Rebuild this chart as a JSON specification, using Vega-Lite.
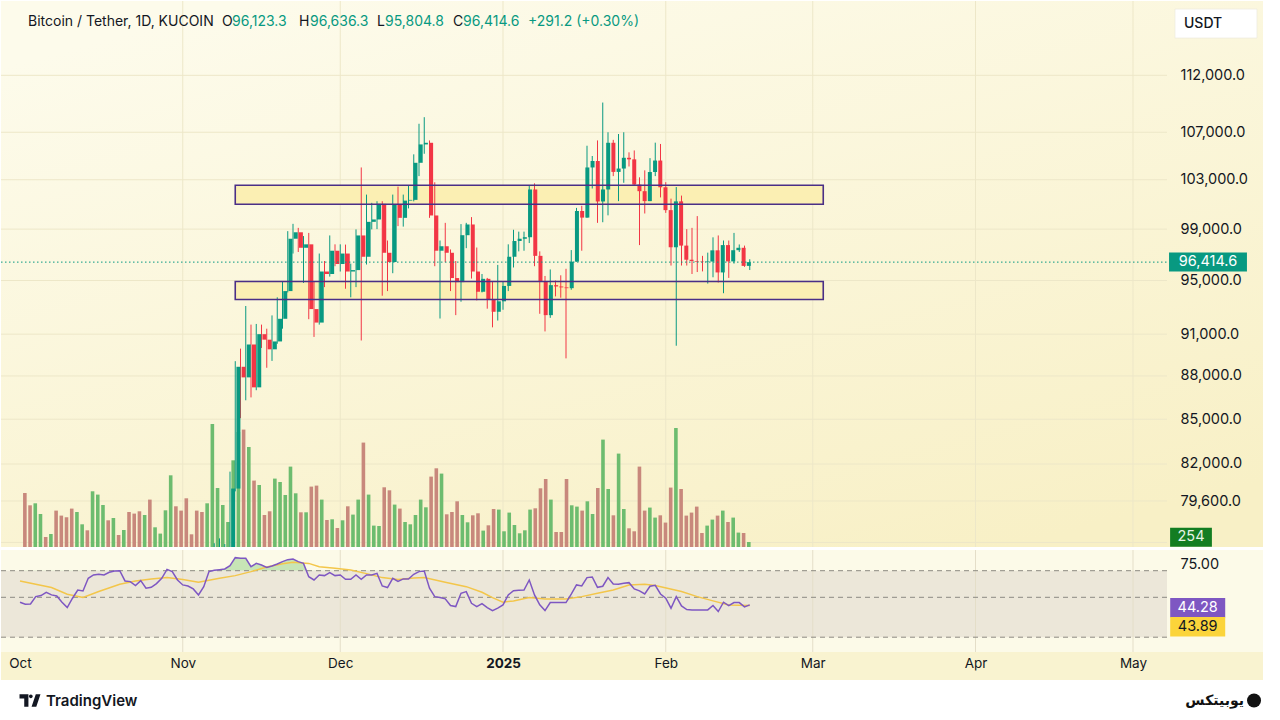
{
"$schema":"https://vega.github.io/schema/vega-lite/v6.json",
"background":"#ffffff",
"padding":{"left":0,"top":0,"right":18,"bottom":0},
"spacing":1,
"config":{"view":{"stroke":null},"font":"Inter"},
"datasets":{
"one":[{}],
"daily":[
{"d":"2024-10-01","v":2743,"r":46.3,"dir":"down"},
{"d":"2024-10-02","v":2118,"r":44.8,"dir":"down"},
{"d":"2024-10-03","v":2220,"r":45.0,"dir":"up"},
{"d":"2024-10-04","v":1676,"r":50.5,"dir":"up"},
{"d":"2024-10-05","v":508,"r":51.3,"dir":"down"},
{"d":"2024-10-06","v":660,"r":53.8,"dir":"up"},
{"d":"2024-10-07","v":1849,"r":51.8,"dir":"down"},
{"d":"2024-10-08","v":1595,"r":51.0,"dir":"down"},
{"d":"2024-10-09","v":1509,"r":46.3,"dir":"down"},
{"d":"2024-10-10","v":1951,"r":42.3,"dir":"down"},
{"d":"2024-10-11","v":1778,"r":49.3,"dir":"up"},
{"d":"2024-10-12","v":1153,"r":55.5,"dir":"up"},
{"d":"2024-10-13","v":848,"r":54.8,"dir":"down"},
{"d":"2024-10-14","v":2830,"r":64.3,"dir":"up"},
{"d":"2024-10-15","v":2662,"r":66.8,"dir":"up"},
{"d":"2024-10-16","v":2134,"r":67.3,"dir":"up"},
{"d":"2024-10-17","v":1356,"r":66.8,"dir":"down"},
{"d":"2024-10-18","v":1473,"r":68.8,"dir":"up"},
{"d":"2024-10-19","v":610,"r":69.8,"dir":"down"},
{"d":"2024-10-20","v":864,"r":70.0,"dir":"up"},
{"d":"2024-10-21","v":1778,"r":62.3,"dir":"down"},
{"d":"2024-10-22","v":1697,"r":61.8,"dir":"down"},
{"d":"2024-10-23","v":1814,"r":58.8,"dir":"down"},
{"d":"2024-10-24","v":1626,"r":62.5,"dir":"up"},
{"d":"2024-10-25","v":2408,"r":56.8,"dir":"down"},
{"d":"2024-10-26","v":1001,"r":57.5,"dir":"up"},
{"d":"2024-10-27","v":681,"r":60.3,"dir":"up"},
{"d":"2024-10-28","v":1864,"r":64.3,"dir":"up"},
{"d":"2024-10-29","v":3642,"r":71.0,"dir":"up"},
{"d":"2024-10-30","v":2068,"r":69.3,"dir":"down"},
{"d":"2024-10-31","v":1849,"r":63.0,"dir":"down"},
{"d":"2024-11-01","v":2474,"r":59.3,"dir":"down"},
{"d":"2024-11-02","v":645,"r":58.5,"dir":"down"},
{"d":"2024-11-03","v":1849,"r":56.3,"dir":"down"},
{"d":"2024-11-04","v":1778,"r":51.8,"dir":"down"},
{"d":"2024-11-05","v":2220,"r":58.0,"dir":"up"},
{"d":"2024-11-06","v":6248,"r":69.3,"dir":"up","o":69380,"h":76460,"l":69320,"c":75640},
{"d":"2024-11-07","v":2997,"r":70.3,"dir":"up","o":75640,"h":76950,"l":74460,"c":75900},
{"d":"2024-11-08","v":2134,"r":70.8,"dir":"up","o":75900,"h":77250,"l":75600,"c":76540},
{"d":"2024-11-09","v":1270,"r":71.3,"dir":"up","o":76540,"h":76900,"l":75700,"c":76680},
{"d":"2024-11-10","v":4404,"r":73.8,"dir":"up","o":76680,"h":81500,"l":76470,"c":80400},
{"d":"2024-11-11","v":5842,"r":79.8,"dir":"up","o":80400,"h":89050,"l":80220,"c":88650},
{"d":"2024-11-12","v":5964,"r":79.3,"dir":"down","o":88650,"h":89950,"l":85070,"c":87900},
{"d":"2024-11-13","v":5080,"r":79.3,"dir":"up","o":87900,"h":93080,"l":86300,"c":90250},
{"d":"2024-11-14","v":3373,"r":73.0,"dir":"down","o":90250,"h":91700,"l":86500,"c":87200},
{"d":"2024-11-15","v":3150,"r":75.5,"dir":"up","o":87200,"h":91750,"l":87000,"c":91000},
{"d":"2024-11-16","v":1626,"r":74.3,"dir":"down","o":91000,"h":91700,"l":90000,"c":90600},
{"d":"2024-11-17","v":1814,"r":72.5,"dir":"down","o":90600,"h":91400,"l":88580,"c":89900},
{"d":"2024-11-18","v":3475,"r":73.5,"dir":"up","o":89900,"h":92380,"l":89070,"c":90470},
{"d":"2024-11-19","v":3302,"r":75.0,"dir":"up","o":90470,"h":93730,"l":90300,"c":92130},
{"d":"2024-11-20","v":2642,"r":76.8,"dir":"up","o":92130,"h":94900,"l":91400,"c":94200},
{"d":"2024-11-21","v":4084,"r":78.3,"dir":"up","o":94200,"h":98840,"l":94100,"c":98240},
{"d":"2024-11-22","v":2728,"r":78.8,"dir":"up","o":98240,"h":99420,"l":97080,"c":98750},
{"d":"2024-11-23","v":1763,"r":76.8,"dir":"down","o":98750,"h":99100,"l":97200,"c":97530},
{"d":"2024-11-24","v":1763,"r":75.5,"dir":"up","o":97530,"h":98450,"l":94820,"c":97800},
{"d":"2024-11-25","v":3068,"r":65.5,"dir":"down","o":97800,"h":98700,"l":92100,"c":92850},
{"d":"2024-11-26","v":3119,"r":63.0,"dir":"down","o":92850,"h":94900,"l":90800,"c":91850},
{"d":"2024-11-27","v":2408,"r":66.8,"dir":"up","o":91850,"h":97080,"l":91700,"c":95690},
{"d":"2024-11-28","v":1372,"r":66.3,"dir":"down","o":95690,"h":96500,"l":94500,"c":95500},
{"d":"2024-11-29","v":1407,"r":68.5,"dir":"up","o":95500,"h":98500,"l":95300,"c":97300},
{"d":"2024-11-30","v":965,"r":66.3,"dir":"down","o":97300,"h":97800,"l":96100,"c":96270},
{"d":"2024-12-01","v":1356,"r":66.8,"dir":"up","o":96270,"h":97800,"l":95690,"c":97080},
{"d":"2024-12-02","v":2068,"r":63.5,"dir":"down","o":97080,"h":97780,"l":94380,"c":95690},
{"d":"2024-12-03","v":1646,"r":63.5,"dir":"up","o":95690,"h":96300,"l":93730,"c":95800},
{"d":"2024-12-04","v":2408,"r":66.8,"dir":"up","o":95800,"h":98980,"l":94500,"c":98500},
{"d":"2024-12-05","v":5304,"r":63.5,"dir":"down","o":98500,"h":104020,"l":90540,"c":96830},
{"d":"2024-12-06","v":2662,"r":66.8,"dir":"up","o":96830,"h":101780,"l":96230,"c":99580},
{"d":"2024-12-07","v":1087,"r":66.8,"dir":"up","o":99580,"h":101110,"l":98980,"c":99770},
{"d":"2024-12-08","v":1067,"r":68.0,"dir":"up","o":99770,"h":101240,"l":99000,"c":101030},
{"d":"2024-12-09","v":3033,"r":58.5,"dir":"down","o":101030,"h":101240,"l":93850,"c":97140},
{"d":"2024-12-10","v":2880,"r":57.3,"dir":"down","o":97140,"h":98100,"l":94200,"c":96420},
{"d":"2024-12-11","v":2154,"r":64.3,"dir":"up","o":96420,"h":101780,"l":95560,"c":100980},
{"d":"2024-12-12","v":1951,"r":62.0,"dir":"down","o":100980,"h":102430,"l":99240,"c":99900},
{"d":"2024-12-13","v":1270,"r":63.8,"dir":"up","o":99900,"h":101780,"l":99200,"c":101290},
{"d":"2024-12-14","v":1153,"r":63.8,"dir":"up","o":101290,"h":102530,"l":100660,"c":101350},
{"d":"2024-12-15","v":1626,"r":67.3,"dir":"up","o":101350,"h":105120,"l":101230,"c":104410},
{"d":"2024-12-16","v":2408,"r":69.3,"dir":"up","o":104410,"h":107730,"l":103300,"c":105960},
{"d":"2024-12-17","v":2017,"r":69.8,"dir":"up","o":105960,"h":108300,"l":105170,"c":106100},
{"d":"2024-12-18","v":3576,"r":56.8,"dir":"down","o":106100,"h":106300,"l":99900,"c":100090},
{"d":"2024-12-19","v":3998,"r":50.5,"dir":"down","o":100090,"h":102790,"l":96100,"c":97300},
{"d":"2024-12-20","v":3729,"r":49.8,"dir":"up","o":97300,"h":98100,"l":92150,"c":97650},
{"d":"2024-12-21","v":1661,"r":48.8,"dir":"down","o":97650,"h":99500,"l":96400,"c":97140},
{"d":"2024-12-22","v":1778,"r":43.8,"dir":"down","o":97140,"h":97400,"l":94200,"c":95190},
{"d":"2024-12-23","v":2322,"r":43.0,"dir":"down","o":95190,"h":96500,"l":92400,"c":94880},
{"d":"2024-12-24","v":1626,"r":53.0,"dir":"up","o":94880,"h":99400,"l":93400,"c":98520},
{"d":"2024-12-25","v":1255,"r":54.3,"dir":"up","o":98520,"h":99500,"l":97500,"c":99370},
{"d":"2024-12-26","v":1610,"r":45.5,"dir":"down","o":99370,"h":99960,"l":95150,"c":95690},
{"d":"2024-12-27","v":1712,"r":43.0,"dir":"down","o":95690,"h":97550,"l":93500,"c":94150},
{"d":"2024-12-28","v":833,"r":45.3,"dir":"up","o":94150,"h":95500,"l":94100,"c":95130},
{"d":"2024-12-29","v":1102,"r":42.3,"dir":"down","o":95130,"h":95200,"l":92880,"c":93570},
{"d":"2024-12-30","v":1930,"r":40.0,"dir":"down","o":93570,"h":94900,"l":91500,"c":92650},
{"d":"2024-12-31","v":1900,"r":41.8,"dir":"up","o":92650,"h":96200,"l":92000,"c":93430},
{"d":"2025-01-01","v":798,"r":44.3,"dir":"up","o":93430,"h":94950,"l":92800,"c":94590},
{"d":"2025-01-02","v":1748,"r":51.8,"dir":"up","o":94590,"h":97800,"l":94200,"c":96830},
{"d":"2025-01-03","v":1118,"r":55.0,"dir":"up","o":96830,"h":98950,"l":96000,"c":98060},
{"d":"2025-01-04","v":696,"r":55.3,"dir":"up","o":98060,"h":98800,"l":97250,"c":98240},
{"d":"2025-01-05","v":848,"r":55.5,"dir":"up","o":98240,"h":98800,"l":97300,"c":98360},
{"d":"2025-01-06","v":1900,"r":63.0,"dir":"up","o":98360,"h":102500,"l":97900,"c":102200},
{"d":"2025-01-07","v":1966,"r":51.8,"dir":"down","o":102200,"h":102700,"l":96100,"c":96900},
{"d":"2025-01-08","v":2982,"r":44.3,"dir":"down","o":96900,"h":97250,"l":92500,"c":94940},
{"d":"2025-01-09","v":3454,"r":40.0,"dir":"down","o":94940,"h":95350,"l":91200,"c":92400},
{"d":"2025-01-10","v":2408,"r":46.0,"dir":"up","o":92400,"h":95850,"l":92200,"c":94650},
{"d":"2025-01-11","v":762,"r":46.0,"dir":"down","o":94650,"h":95000,"l":93800,"c":94550},
{"d":"2025-01-12","v":762,"r":46.0,"dir":"down","o":94550,"h":95400,"l":93700,"c":94480},
{"d":"2025-01-13","v":3454,"r":46.0,"dir":"down","o":94480,"h":95900,"l":89250,"c":94420},
{"d":"2025-01-14","v":2118,"r":52.3,"dir":"up","o":94420,"h":97350,"l":94300,"c":96450},
{"d":"2025-01-15","v":2052,"r":59.3,"dir":"up","o":96450,"h":100700,"l":96450,"c":100450},
{"d":"2025-01-16","v":1849,"r":58.5,"dir":"down","o":100450,"h":100870,"l":97300,"c":99920},
{"d":"2025-01-17","v":2322,"r":64.8,"dir":"up","o":99920,"h":105850,"l":99900,"c":104020},
{"d":"2025-01-18","v":1676,"r":65.3,"dir":"up","o":104020,"h":104980,"l":102280,"c":104560},
{"d":"2025-01-19","v":2997,"r":57.5,"dir":"down","o":104560,"h":106300,"l":99500,"c":101220},
{"d":"2025-01-20","v":5456,"r":58.3,"dir":"up","o":101220,"h":109580,"l":99550,"c":102200},
{"d":"2025-01-21","v":2946,"r":64.8,"dir":"up","o":102200,"h":107000,"l":100100,"c":106100},
{"d":"2025-01-22","v":1610,"r":60.0,"dir":"down","o":106100,"h":106350,"l":103300,"c":103650},
{"d":"2025-01-23","v":4745,"r":59.8,"dir":"up","o":103650,"h":106850,"l":101250,"c":103930},
{"d":"2025-01-24","v":1930,"r":60.5,"dir":"up","o":103930,"h":107000,"l":102750,"c":104830},
{"d":"2025-01-25","v":950,"r":61.0,"dir":"down","o":104830,"h":105290,"l":104100,"c":104700},
{"d":"2025-01-26","v":798,"r":56.3,"dir":"down","o":104700,"h":105450,"l":102500,"c":102600},
{"d":"2025-01-27","v":4084,"r":54.8,"dir":"down","o":102600,"h":103200,"l":97740,"c":102060},
{"d":"2025-01-28","v":1849,"r":52.5,"dir":"down","o":102060,"h":103780,"l":100250,"c":101250},
{"d":"2025-01-29","v":2002,"r":58.3,"dir":"up","o":101250,"h":104800,"l":101250,"c":103640},
{"d":"2025-01-30","v":1494,"r":59.0,"dir":"up","o":103640,"h":106110,"l":103300,"c":104600},
{"d":"2025-01-31","v":1610,"r":52.5,"dir":"down","o":104600,"h":106000,"l":101550,"c":102380},
{"d":"2025-02-01","v":1240,"r":49.3,"dir":"down","o":102380,"h":102800,"l":100300,"c":100520},
{"d":"2025-02-02","v":3018,"r":41.8,"dir":"down","o":100520,"h":101450,"l":96150,"c":97570},
{"d":"2025-02-03","v":6045,"r":50.5,"dir":"up","o":97570,"h":102400,"l":90160,"c":101230},
{"d":"2025-02-04","v":2946,"r":43.5,"dir":"down","o":101230,"h":101700,"l":96150,"c":97700},
{"d":"2025-02-05","v":1595,"r":40.8,"dir":"down","o":97700,"h":99000,"l":96150,"c":96600},
{"d":"2025-02-06","v":1748,"r":40.5,"dir":"down","o":96600,"h":99100,"l":95500,"c":96500},
{"d":"2025-02-07","v":2052,"r":40.5,"dir":"down","o":96500,"h":100040,"l":95650,"c":96450},
{"d":"2025-02-08","v":711,"r":40.5,"dir":"down","o":96450,"h":96900,"l":95700,"c":96420},
{"d":"2025-02-09","v":1087,"r":40.5,"dir":"up","o":96420,"h":97150,"l":94770,"c":96460},
{"d":"2025-02-10","v":1392,"r":43.8,"dir":"up","o":96460,"h":98350,"l":95250,"c":97330},
{"d":"2025-02-11","v":1595,"r":39.3,"dir":"down","o":97330,"h":98500,"l":94850,"c":95620},
{"d":"2025-02-12","v":1849,"r":46.3,"dir":"up","o":95620,"h":98100,"l":94040,"c":97740},
{"d":"2025-02-13","v":1270,"r":43.8,"dir":"down","o":97740,"h":98100,"l":95200,"c":96470},
{"d":"2025-02-14","v":1494,"r":46.0,"dir":"up","o":96470,"h":98700,"l":96300,"c":97340},
{"d":"2025-02-15","v":732,"r":46.0,"dir":"up","o":97340,"h":97790,"l":97200,"c":97530},
{"d":"2025-02-16","v":711,"r":42.8,"dir":"down","o":97530,"h":97700,"l":96050,"c":96123.4},
{"d":"2025-02-17","v":254,"r":44.28,"dir":"up","o":96123.3,"h":96636.3,"l":95804.8,"c":96414.6}
],
"ma":[
{"d":"2024-10-01","m":62.3},{"d":"2024-10-04","m":59.8},{"d":"2024-10-07","m":57.3},{"d":"2024-10-10","m":52.3},
{"d":"2024-10-13","m":49.8},{"d":"2024-10-16","m":54.3},{"d":"2024-10-20","m":59.8},{"d":"2024-10-23","m":62.3},
{"d":"2024-10-26","m":63.8},{"d":"2024-10-29","m":64.8},{"d":"2024-11-01","m":63.3},{"d":"2024-11-04","m":61.3},
{"d":"2024-11-08","m":64.3},{"d":"2024-11-11","m":66.3},{"d":"2024-11-14","m":69.3},{"d":"2024-11-17","m":72.8},
{"d":"2024-11-20","m":75.3},{"d":"2024-11-22","m":76.3},{"d":"2024-11-25","m":75.5},{"d":"2024-11-27","m":73.0},
{"d":"2024-11-30","m":71.8},{"d":"2024-12-03","m":70.5},{"d":"2024-12-06","m":67.8},{"d":"2024-12-09","m":64.8},
{"d":"2024-12-12","m":63.3},{"d":"2024-12-15","m":64.5},{"d":"2024-12-17","m":64.8},{"d":"2024-12-21","m":61.3},
{"d":"2024-12-25","m":58.0},{"d":"2024-12-28","m":53.8},{"d":"2024-12-30","m":49.8},{"d":"2025-01-01","m":46.3},
{"d":"2025-01-03","m":47.3},{"d":"2025-01-06","m":49.8},{"d":"2025-01-09","m":48.8},{"d":"2025-01-13","m":48.8},
{"d":"2025-01-16","m":50.5},{"d":"2025-01-19","m":53.0},{"d":"2025-01-22","m":55.5},{"d":"2025-01-25","m":59.3},
{"d":"2025-01-28","m":59.8},{"d":"2025-01-30","m":58.8},{"d":"2025-02-04","m":54.3},{"d":"2025-02-07","m":50.5},
{"d":"2025-02-10","m":47.3},{"d":"2025-02-13","m":44.3},{"d":"2025-02-17","m":43.89}
],
"zones":[
{"s":"2024-11-11","e":"2025-03-03","lo":101000,"hi":102550},
{"s":"2024-11-11","e":"2025-03-03","lo":93570,"hi":94930}
],
"ticks":[{"p":77000},{"p":79600},{"p":82000},{"p":85000},{"p":88000},{"p":91000},{"p":95000},{"p":99000},{"p":103000},{"p":107000},{"p":112000}],
"months":[{"m":"2024-11-01"},{"m":"2024-12-01"},{"m":"2025-01-01"},{"m":"2025-02-01"},{"m":"2025-03-01"},{"m":"2025-04-01"},{"m":"2025-05-01"}],
"bands":[{"b":70},{"b":50},{"b":20}]
},
"vconcat":[
{
"width":1262,"height":546,
"view":{"stroke":null,"fill":"#fbf7dc"},
"resolve":{"scale":{"x":"independent","y":"independent"}},
"layer":[
{"data":{"name":"one"},"mark":{"type":"rect","fill":{"gradient":"linear","x1":0.2,"y1":0,"x2":0.8,"y2":1,"stops":[{"offset":0,"color":"#fdfbeb"},{"offset":1,"color":"#f8f0c6"}]}},
 "encoding":{
  "x":{"datum":{"year":2024,"month":"sep","date":27,"hours":9,"minutes":8,"utc":true},"type":"temporal","axis":null,"scale":{"type":"utc","domain":[{"year":2024,"month":"sep","date":27,"hours":9,"minutes":8,"utc":true},{"year":2025,"month":"may","date":25,"hours":18,"minutes":17,"utc":true}]}},
  "x2":{"datum":{"year":2025,"month":"may","date":25,"hours":18,"minutes":17,"utc":true}},
  "y":{"datum":118880,"type":"quantitative","axis":null,"scale":{"type":"log","domain":[76718,118880],"nice":false}},
  "y2":{"datum":76718}}},
{"data":{"name":"ticks"},"mark":{"type":"rule","stroke":"#ede7c8","strokeWidth":1},
 "encoding":{
  "x":{"datum":{"year":2024,"month":"sep","date":27,"hours":9,"minutes":8,"utc":true},"type":"temporal","axis":null,"scale":{"type":"utc","domain":[{"year":2024,"month":"sep","date":27,"hours":9,"minutes":8,"utc":true},{"year":2025,"month":"may","date":25,"hours":18,"minutes":17,"utc":true}]}},
  "x2":{"datum":{"year":2025,"month":"may","date":7,"hours":11,"minutes":26,"utc":true}},
  "y":{"field":"p","type":"quantitative","scale":{"type":"log","domain":[76718,118880],"nice":false},
   "axis":{"orient":"right","offset":-92,"zindex":1,"values":[79600,82000,85000,88000,91000,95000,99000,103000,107000,112000],"format":",.1f","ticks":false,"tickSize":0,"domain":false,"grid":false,"labelPadding":9,"labelFont":"Inter","labelFontSize":14.5,"labelColor":"#131722","labelOverlap":false,"labelAlign":"left","labelBaseline":"middle","labelBound":false,"labelFlush":false,"title":null}}}},
{"data":{"name":"months"},"mark":{"type":"rule","stroke":"#ede7c8","strokeWidth":1},
 "encoding":{"x":{"field":"m","type":"temporal","axis":null,"scale":{"type":"utc","domain":[{"year":2024,"month":"sep","date":27,"hours":9,"minutes":8,"utc":true},{"year":2025,"month":"may","date":25,"hours":18,"minutes":17,"utc":true}]}}}},
{"data":{"name":"daily"},"mark":{"type":"bar","size":3.6},
 "encoding":{
  "x":{"field":"d","type":"temporal","axis":null,"scale":{"type":"utc","domain":[{"year":2024,"month":"sep","date":27,"hours":9,"minutes":8,"utc":true},{"year":2025,"month":"may","date":25,"hours":18,"minutes":17,"utc":true}]}},
  "y":{"field":"v","type":"quantitative","axis":null,"scale":{"domain":[0,27737],"nice":false}},
  "color":{"condition":{"test":"datum.dir==='up'","value":"#6dbc6f"},"value":"#c8887c"}}},
{"data":{"name":"zones"},"mark":{"type":"rect","fill":"#fbefb3"},
 "encoding":{
  "x":{"field":"s","type":"temporal","axis":null,"scale":{"type":"utc","domain":[{"year":2024,"month":"sep","date":27,"hours":9,"minutes":8,"utc":true},{"year":2025,"month":"may","date":25,"hours":18,"minutes":17,"utc":true}]}},
  "x2":{"field":"e"},
  "y":{"field":"lo","type":"quantitative","axis":null,"scale":{"type":"log","domain":[76718,118880],"nice":false}},
  "y2":{"field":"hi"}}},
{"data":{"name":"daily"},"mark":{"type":"rule","strokeWidth":1,"clip":true},
 "encoding":{
  "x":{"field":"d","type":"temporal","axis":null,"scale":{"type":"utc","domain":[{"year":2024,"month":"sep","date":27,"hours":9,"minutes":8,"utc":true},{"year":2025,"month":"may","date":25,"hours":18,"minutes":17,"utc":true}]}},
  "y":{"field":"l","type":"quantitative","axis":null,"scale":{"type":"log","domain":[76718,118880],"nice":false}},
  "y2":{"field":"h"},
  "color":{"condition":{"test":"datum.dir==='up'","value":"#089981"},"value":"#f23645"}}},
{"data":{"name":"daily"},"mark":{"type":"bar","size":4,"clip":true},
 "encoding":{
  "x":{"field":"d","type":"temporal","axis":null,"scale":{"type":"utc","domain":[{"year":2024,"month":"sep","date":27,"hours":9,"minutes":8,"utc":true},{"year":2025,"month":"may","date":25,"hours":18,"minutes":17,"utc":true}]}},
  "y":{"field":"o","type":"quantitative","axis":null,"scale":{"type":"log","domain":[76718,118880],"nice":false}},
  "y2":{"field":"c"},
  "color":{"condition":{"test":"datum.dir==='up'","value":"#089981"},"value":"#f23645"}}},
{"data":{"name":"zones"},"mark":{"type":"rect","filled":false,"stroke":"#4a2f86","strokeWidth":1.6},
 "encoding":{
  "x":{"field":"s","type":"temporal","axis":null,"scale":{"type":"utc","domain":[{"year":2024,"month":"sep","date":27,"hours":9,"minutes":8,"utc":true},{"year":2025,"month":"may","date":25,"hours":18,"minutes":17,"utc":true}]}},
  "x2":{"field":"e"},
  "y":{"field":"lo","type":"quantitative","axis":null,"scale":{"type":"log","domain":[76718,118880],"nice":false}},
  "y2":{"field":"hi"}}},
{"data":{"name":"one"},"mark":{"type":"rule","stroke":"#089981","strokeDash":[1.5,2.5],"strokeWidth":1},
 "encoding":{
  "x":{"datum":{"year":2024,"month":"sep","date":27,"hours":9,"minutes":8,"utc":true},"type":"temporal","axis":null,"scale":{"type":"utc","domain":[{"year":2024,"month":"sep","date":27,"hours":9,"minutes":8,"utc":true},{"year":2025,"month":"may","date":25,"hours":18,"minutes":17,"utc":true}]}},
  "x2":{"datum":{"year":2025,"month":"may","date":7,"hours":11,"minutes":26,"utc":true}},
  "y":{"datum":96414.6,"type":"quantitative","axis":null,"scale":{"type":"log","domain":[76718,118880],"nice":false}}}},
{"data":{"name":"one"},"mark":{"type":"text","align":"left","baseline":"middle","fontSize":14,"color":"#131722","text":"Bitcoin / Tether, 1D, KUCOIN"},
 "encoding":{
  "x":{"datum":{"year":2024,"month":"oct","date":2,"hours":12,"minutes":34,"utc":true},"type":"temporal","axis":null,"scale":{"type":"utc","domain":[{"year":2024,"month":"sep","date":27,"hours":9,"minutes":8,"utc":true},{"year":2025,"month":"may","date":25,"hours":18,"minutes":17,"utc":true}]}},
  "y":{"datum":116890,"type":"quantitative","axis":null,"scale":{"type":"log","domain":[76718,118880],"nice":false}}}},
{"data":{"name":"one"},"mark":{"type":"text","align":"left","baseline":"middle","fontSize":14,"color":"#131722","text":"O"},
 "encoding":{
  "x":{"datum":{"year":2024,"month":"nov","date":8,"hours":11,"minutes":26,"utc":true},"type":"temporal","axis":null,"scale":{"type":"utc","domain":[{"year":2024,"month":"sep","date":27,"hours":9,"minutes":8,"utc":true},{"year":2025,"month":"may","date":25,"hours":18,"minutes":17,"utc":true}]}},
  "y":{"datum":116890,"type":"quantitative","axis":null,"scale":{"type":"log","domain":[76718,118880],"nice":false}}}},
{"data":{"name":"one"},"mark":{"type":"text","align":"left","baseline":"middle","fontSize":14,"color":"#089981","text":"96,123.3"},
 "encoding":{
  "x":{"datum":{"year":2024,"month":"nov","date":10,"hours":9,"minutes":9,"utc":true},"type":"temporal","axis":null,"scale":{"type":"utc","domain":[{"year":2024,"month":"sep","date":27,"hours":9,"minutes":8,"utc":true},{"year":2025,"month":"may","date":25,"hours":18,"minutes":17,"utc":true}]}},
  "y":{"datum":116890,"type":"quantitative","axis":null,"scale":{"type":"log","domain":[76718,118880],"nice":false}}}},
{"data":{"name":"one"},"mark":{"type":"text","align":"left","baseline":"middle","fontSize":14,"color":"#131722","text":"H"},
 "encoding":{
  "x":{"datum":{"year":2024,"month":"nov","date":23,"hours":3,"minutes":26,"utc":true},"type":"temporal","axis":null,"scale":{"type":"utc","domain":[{"year":2024,"month":"sep","date":27,"hours":9,"minutes":8,"utc":true},{"year":2025,"month":"may","date":25,"hours":18,"minutes":17,"utc":true}]}},
  "y":{"datum":116890,"type":"quantitative","axis":null,"scale":{"type":"log","domain":[76718,118880],"nice":false}}}},
{"data":{"name":"one"},"mark":{"type":"text","align":"left","baseline":"middle","fontSize":14,"color":"#089981","text":"96,636.3"},
 "encoding":{
  "x":{"datum":{"year":2024,"month":"nov","date":25,"hours":5,"minutes":43,"utc":true},"type":"temporal","axis":null,"scale":{"type":"utc","domain":[{"year":2024,"month":"sep","date":27,"hours":9,"minutes":8,"utc":true},{"year":2025,"month":"may","date":25,"hours":18,"minutes":17,"utc":true}]}},
  "y":{"datum":116890,"type":"quantitative","axis":null,"scale":{"type":"log","domain":[76718,118880],"nice":false}}}},
{"data":{"name":"one"},"mark":{"type":"text","align":"left","baseline":"middle","fontSize":14,"color":"#131722","text":"L"},
 "encoding":{
  "x":{"datum":{"year":2024,"month":"dec","date":8,"hours":0,"minutes":0,"utc":true},"type":"temporal","axis":null,"scale":{"type":"utc","domain":[{"year":2024,"month":"sep","date":27,"hours":9,"minutes":8,"utc":true},{"year":2025,"month":"may","date":25,"hours":18,"minutes":17,"utc":true}]}},
  "y":{"datum":116890,"type":"quantitative","axis":null,"scale":{"type":"log","domain":[76718,118880],"nice":false}}}},
{"data":{"name":"one"},"mark":{"type":"text","align":"left","baseline":"middle","fontSize":14,"color":"#089981","text":"95,804.8"},
 "encoding":{
  "x":{"datum":{"year":2024,"month":"dec","date":9,"hours":12,"minutes":34,"utc":true},"type":"temporal","axis":null,"scale":{"type":"utc","domain":[{"year":2024,"month":"sep","date":27,"hours":9,"minutes":8,"utc":true},{"year":2025,"month":"may","date":25,"hours":18,"minutes":17,"utc":true}]}},
  "y":{"datum":116890,"type":"quantitative","axis":null,"scale":{"type":"log","domain":[76718,118880],"nice":false}}}},
{"data":{"name":"one"},"mark":{"type":"text","align":"left","baseline":"middle","fontSize":14,"color":"#131722","text":"C"},
 "encoding":{
  "x":{"datum":{"year":2024,"month":"dec","date":22,"hours":11,"minutes":26,"utc":true},"type":"temporal","axis":null,"scale":{"type":"utc","domain":[{"year":2024,"month":"sep","date":27,"hours":9,"minutes":8,"utc":true},{"year":2025,"month":"may","date":25,"hours":18,"minutes":17,"utc":true}]}},
  "y":{"datum":116890,"type":"quantitative","axis":null,"scale":{"type":"log","domain":[76718,118880],"nice":false}}}},
{"data":{"name":"one"},"mark":{"type":"text","align":"left","baseline":"middle","fontSize":14,"color":"#089981","text":"96,414.6"},
 "encoding":{
  "x":{"datum":{"year":2024,"month":"dec","date":24,"hours":9,"minutes":9,"utc":true},"type":"temporal","axis":null,"scale":{"type":"utc","domain":[{"year":2024,"month":"sep","date":27,"hours":9,"minutes":8,"utc":true},{"year":2025,"month":"may","date":25,"hours":18,"minutes":17,"utc":true}]}},
  "y":{"datum":116890,"type":"quantitative","axis":null,"scale":{"type":"log","domain":[76718,118880],"nice":false}}}},
{"data":{"name":"one"},"mark":{"type":"text","align":"left","baseline":"middle","fontSize":14,"color":"#089981","text":"+291.2 (+0.30%)"},
 "encoding":{
  "x":{"datum":{"year":2025,"month":"jan","date":5,"hours":18,"minutes":17,"utc":true},"type":"temporal","axis":null,"scale":{"type":"utc","domain":[{"year":2024,"month":"sep","date":27,"hours":9,"minutes":8,"utc":true},{"year":2025,"month":"may","date":25,"hours":18,"minutes":17,"utc":true}]}},
  "y":{"datum":116890,"type":"quantitative","axis":null,"scale":{"type":"log","domain":[76718,118880],"nice":false}}}},
{"data":{"name":"one"},"mark":{"type":"point","shape":"M-1.414,-0.5L1.414,-0.5L1.414,0.5L-1.414,0.5Z","filled":true,"size":3364,"color":"#ffffff","opacity":1,"stroke":"#ede9dc","strokeWidth":0.7},
 "encoding":{
  "x":{"datum":{"year":2025,"month":"may","date":16,"hours":19,"minutes":26,"utc":true},"type":"temporal","axis":null,"scale":{"type":"utc","domain":[{"year":2024,"month":"sep","date":27,"hours":9,"minutes":8,"utc":true},{"year":2025,"month":"may","date":25,"hours":18,"minutes":17,"utc":true}]}},
  "y":{"datum":116750,"type":"quantitative","axis":null,"scale":{"type":"log","domain":[76718,118880],"nice":false}}}},
{"data":{"name":"one"},"mark":{"type":"text","align":"left","baseline":"middle","fontSize":14,"fontWeight":500,"color":"#131722","text":"USDT"},
 "encoding":{
  "x":{"datum":{"year":2025,"month":"may","date":10,"hours":17,"minutes":9,"utc":true},"type":"temporal","axis":null,"scale":{"type":"utc","domain":[{"year":2024,"month":"sep","date":27,"hours":9,"minutes":8,"utc":true},{"year":2025,"month":"may","date":25,"hours":18,"minutes":17,"utc":true}]}},
  "y":{"datum":116750,"type":"quantitative","axis":null,"scale":{"type":"log","domain":[76718,118880],"nice":false}}}},
{"data":{"name":"one"},"mark":{"type":"point","shape":"M-2.05,-0.5L2.05,-0.5L2.05,0.5L-2.05,0.5Z","filled":true,"size":1444,"color":"#089981","opacity":1},
 "encoding":{
  "x":{"datum":{"year":2025,"month":"may","date":15,"hours":6,"minutes":51,"utc":true},"type":"temporal","axis":null,"scale":{"type":"utc","domain":[{"year":2024,"month":"sep","date":27,"hours":9,"minutes":8,"utc":true},{"year":2025,"month":"may","date":25,"hours":18,"minutes":17,"utc":true}]}},
  "y":{"datum":96414.6,"type":"quantitative","axis":null,"scale":{"type":"log","domain":[76718,118880],"nice":false}}}},
{"data":{"name":"one"},"mark":{"type":"text","align":"center","baseline":"middle","fontSize":14.5,"color":"#ffffff","text":"96,414.6"},
 "encoding":{
  "x":{"datum":{"year":2025,"month":"may","date":15,"hours":6,"minutes":51,"utc":true},"type":"temporal","axis":null,"scale":{"type":"utc","domain":[{"year":2024,"month":"sep","date":27,"hours":9,"minutes":8,"utc":true},{"year":2025,"month":"may","date":25,"hours":18,"minutes":17,"utc":true}]}},
  "y":{"datum":96414.6,"type":"quantitative","axis":null,"scale":{"type":"log","domain":[76718,118880],"nice":false}}}},
{"data":{"name":"one"},"mark":{"type":"point","shape":"M-1.1,-0.5L1.1,-0.5L1.1,0.5L-1.1,0.5Z","filled":true,"size":1444,"color":"#137d22","opacity":1},
 "encoding":{
  "x":{"datum":{"year":2025,"month":"may","date":12,"hours":1,"minutes":9,"utc":true},"type":"temporal","axis":null,"scale":{"type":"utc","domain":[{"year":2024,"month":"sep","date":27,"hours":9,"minutes":8,"utc":true},{"year":2025,"month":"may","date":25,"hours":18,"minutes":17,"utc":true}]}},
  "y":{"datum":77319,"type":"quantitative","axis":null,"scale":{"type":"log","domain":[76718,118880],"nice":false}}}},
{"data":{"name":"one"},"mark":{"type":"text","align":"center","baseline":"middle","fontSize":14.5,"color":"#e6f4e6","text":"254"},
 "encoding":{
  "x":{"datum":{"year":2025,"month":"may","date":12,"hours":1,"minutes":9,"utc":true},"type":"temporal","axis":null,"scale":{"type":"utc","domain":[{"year":2024,"month":"sep","date":27,"hours":9,"minutes":8,"utc":true},{"year":2025,"month":"may","date":25,"hours":18,"minutes":17,"utc":true}]}},
  "y":{"datum":77319,"type":"quantitative","axis":null,"scale":{"type":"log","domain":[76718,118880],"nice":false}}}}
]
},
{
"width":1262,"height":130,
"view":{"stroke":null,"fill":"#fcfae8"},
"resolve":{"scale":{"x":"independent","y":"independent"}},
"layer":[
{"data":{"name":"one"},"mark":{"type":"rect","fill":"#f9f3d0"},
 "encoding":{
  "x":{"datum":{"year":2024,"month":"sep","date":27,"hours":9,"minutes":8,"utc":true},"type":"temporal","axis":null,"scale":{"type":"utc","domain":[{"year":2024,"month":"sep","date":27,"hours":9,"minutes":8,"utc":true},{"year":2025,"month":"may","date":25,"hours":18,"minutes":17,"utc":true}]}},
  "x2":{"datum":{"year":2025,"month":"may","date":25,"hours":18,"minutes":17,"utc":true}},
  "y":{"datum":8.87,"type":"quantitative","axis":null,"scale":{"domain":[-12.18,85.56],"nice":false,"zero":false}},
  "y2":{"datum":-12.18}}},
{"data":{"name":"daily"},"mark":{"type":"area","color":"#b5dda5","opacity":0.75},
 "encoding":{
  "x":{"field":"d","type":"temporal","axis":null,"scale":{"type":"utc","domain":[{"year":2024,"month":"sep","date":27,"hours":9,"minutes":8,"utc":true},{"year":2025,"month":"may","date":25,"hours":18,"minutes":17,"utc":true}]}},
  "y":{"field":"r","type":"quantitative","axis":null,"scale":{"domain":[-12.18,85.56],"nice":false,"zero":false}},
  "y2":{"datum":70}}},
{"data":{"name":"one"},"mark":{"type":"rect","fill":"#ece7d9"},
 "encoding":{
  "x":{"datum":{"year":2024,"month":"sep","date":27,"hours":9,"minutes":8,"utc":true},"type":"temporal","axis":null,"scale":{"type":"utc","domain":[{"year":2024,"month":"sep","date":27,"hours":9,"minutes":8,"utc":true},{"year":2025,"month":"may","date":25,"hours":18,"minutes":17,"utc":true}]}},
  "x2":{"datum":{"year":2025,"month":"may","date":7,"hours":11,"minutes":26,"utc":true}},
  "y":{"datum":70,"type":"quantitative","axis":null,"scale":{"domain":[-12.18,85.56],"nice":false,"zero":false}},
  "y2":{"datum":20}}},
{"data":{"name":"months"},"mark":{"type":"rule","stroke":"#e4dec8","strokeWidth":1},
 "encoding":{
  "x":{"field":"m","type":"temporal","axis":null,"scale":{"type":"utc","domain":[{"year":2024,"month":"sep","date":27,"hours":9,"minutes":8,"utc":true},{"year":2025,"month":"may","date":25,"hours":18,"minutes":17,"utc":true}]}},
  "y":{"datum":85.56,"type":"quantitative","axis":null,"scale":{"domain":[-12.18,85.56],"nice":false,"zero":false}},
  "y2":{"datum":8.87}}},
{"data":{"name":"bands"},"mark":{"type":"rule","stroke":"#8d8a82","strokeWidth":1,"strokeDash":[5,4]},
 "encoding":{
  "x":{"datum":{"year":2024,"month":"sep","date":27,"hours":9,"minutes":8,"utc":true},"type":"temporal","axis":null,"scale":{"type":"utc","domain":[{"year":2024,"month":"sep","date":27,"hours":9,"minutes":8,"utc":true},{"year":2025,"month":"may","date":25,"hours":18,"minutes":17,"utc":true}]}},
  "x2":{"datum":{"year":2025,"month":"may","date":7,"hours":11,"minutes":26,"utc":true}},
  "y":{"field":"b","type":"quantitative","scale":{"domain":[-12.18,85.56],"nice":false,"zero":false},
   "axis":{"orient":"right","offset":-92,"zindex":1,"values":[75],"format":".2f","ticks":false,"tickSize":0,"domain":false,"grid":false,"labelPadding":9,"labelFont":"Inter","labelFontSize":14.5,"labelColor":"#131722","labelOverlap":false,"labelAlign":"left","labelBaseline":"middle","labelBound":false,"labelFlush":false,"title":null}}}},
{"data":{"name":"ma"},"mark":{"type":"line","color":"#f3c64a","strokeWidth":1.5},
 "encoding":{
  "x":{"field":"d","type":"temporal","axis":null,"scale":{"type":"utc","domain":[{"year":2024,"month":"sep","date":27,"hours":9,"minutes":8,"utc":true},{"year":2025,"month":"may","date":25,"hours":18,"minutes":17,"utc":true}]}},
  "y":{"field":"m","type":"quantitative","axis":null,"scale":{"domain":[-12.18,85.56],"nice":false,"zero":false}}}},
{"data":{"name":"daily"},"mark":{"type":"line","color":"#7e57c2","strokeWidth":1.5},
 "encoding":{
  "x":{"field":"d","type":"temporal","scale":{"type":"utc","domain":[{"year":2024,"month":"sep","date":27,"hours":9,"minutes":8,"utc":true},{"year":2025,"month":"may","date":25,"hours":18,"minutes":17,"utc":true}]},
   "axis":{"orient":"bottom","offset":-28,"zindex":1,"values":[{"year":2024,"month":"oct","date":1,"utc":true},{"year":2024,"month":"nov","date":1,"utc":true},{"year":2024,"month":"dec","date":1,"utc":true},{"year":2025,"month":"jan","date":1,"utc":true},{"year":2025,"month":"feb","date":1,"utc":true},{"year":2025,"month":"mar","date":1,"utc":true},{"year":2025,"month":"apr","date":1,"utc":true},{"year":2025,"month":"may","date":1,"utc":true}],
    "labelExpr":"utcmonth(datum.value) === 0 ? utcFormat(datum.value, '%Y') : utcFormat(datum.value, '%b')",
    "labelFontWeight":{"condition":{"test":"utcmonth(datum.value) === 0","value":"bold"},"value":"normal"},
    "ticks":false,"tickSize":0,"domain":false,"grid":false,"labelPadding":4,"labelFont":"Inter","labelFontSize":13.5,"labelColor":"#131722","labelOverlap":false,"labelFlush":false,"labelBound":false,"title":null}},
  "y":{"field":"r","type":"quantitative","axis":null,"scale":{"domain":[-12.18,85.56],"nice":false,"zero":false}}}},
{"data":{"name":"one"},"mark":{"type":"point","shape":"M-1.418,-0.5L1.418,-0.5L1.418,0.5L-1.418,0.5Z","filled":true,"size":1505,"color":"#7e57c2","opacity":1},
 "encoding":{
  "x":{"datum":{"year":2025,"month":"may","date":13,"hours":7,"minutes":47,"utc":true},"type":"temporal","axis":null,"scale":{"type":"utc","domain":[{"year":2024,"month":"sep","date":27,"hours":9,"minutes":8,"utc":true},{"year":2025,"month":"may","date":25,"hours":18,"minutes":17,"utc":true}]}},
  "y":{"datum":42.18,"type":"quantitative","axis":null,"scale":{"domain":[-12.18,85.56],"nice":false,"zero":false}}}},
{"data":{"name":"one"},"mark":{"type":"text","align":"center","baseline":"middle","fontSize":14.5,"color":"#ffffff","text":"44.28"},
 "encoding":{
  "x":{"datum":{"year":2025,"month":"may","date":13,"hours":7,"minutes":47,"utc":true},"type":"temporal","axis":null,"scale":{"type":"utc","domain":[{"year":2024,"month":"sep","date":27,"hours":9,"minutes":8,"utc":true},{"year":2025,"month":"may","date":25,"hours":18,"minutes":17,"utc":true}]}},
  "y":{"datum":42.18,"type":"quantitative","axis":null,"scale":{"domain":[-12.18,85.56],"nice":false,"zero":false}}}},
{"data":{"name":"one"},"mark":{"type":"point","shape":"M-1.418,-0.5L1.418,-0.5L1.418,0.5L-1.418,0.5Z","filled":true,"size":1505,"color":"#fbd43a","opacity":1},
 "encoding":{
  "x":{"datum":{"year":2025,"month":"may","date":13,"hours":7,"minutes":47,"utc":true},"type":"temporal","axis":null,"scale":{"type":"utc","domain":[{"year":2024,"month":"sep","date":27,"hours":9,"minutes":8,"utc":true},{"year":2025,"month":"may","date":25,"hours":18,"minutes":17,"utc":true}]}},
  "y":{"datum":27.9,"type":"quantitative","axis":null,"scale":{"domain":[-12.18,85.56],"nice":false,"zero":false}}}},
{"data":{"name":"one"},"mark":{"type":"text","align":"center","baseline":"middle","fontSize":14.5,"color":"#131722","text":"43.89"},
 "encoding":{
  "x":{"datum":{"year":2025,"month":"may","date":13,"hours":7,"minutes":47,"utc":true},"type":"temporal","axis":null,"scale":{"type":"utc","domain":[{"year":2024,"month":"sep","date":27,"hours":9,"minutes":8,"utc":true},{"year":2025,"month":"may","date":25,"hours":18,"minutes":17,"utc":true}]}},
  "y":{"datum":27.9,"type":"quantitative","axis":null,"scale":{"domain":[-12.18,85.56],"nice":false,"zero":false}}}}
]
},
{
"width":1262,"height":39,
"view":{"stroke":null,"fill":"#ffffff"},
"resolve":{"scale":{"x":"independent","y":"independent"}},
"layer":[
{"data":{"name":"one"},"mark":{"type":"point","shape":"M-1,-0.6L-0.15,-0.6L-0.15,0.6L-0.55,0.6L-0.55,-0.2L-1,-0.2Z M0.15,0.6L0.55,-0.6L1,-0.6L0.6,0.6Z M-0.1,-0.4A0.18,0.18 0 1,0 0.26,-0.4A0.18,0.18 0 1,0 -0.1,-0.4Z","filled":true,"size":440,"color":"#131722","opacity":1},
 "encoding":{
  "x":{"datum":{"year":2024,"month":"oct","date":2,"hours":21,"minutes":43,"utc":true},"type":"temporal","axis":null,"scale":{"type":"utc","domain":[{"year":2024,"month":"sep","date":27,"hours":9,"minutes":8,"utc":true},{"year":2025,"month":"may","date":25,"hours":18,"minutes":17,"utc":true}]}},
  "y":{"datum":0.5,"type":"quantitative","axis":null,"scale":{"domain":[0,1]}}}},
{"data":{"name":"one"},"mark":{"type":"text","align":"left","baseline":"middle","fontSize":15,"fontWeight":600,"color":"#131722","text":"TradingView"},
 "encoding":{
  "x":{"datum":{"year":2024,"month":"oct","date":5,"hours":22,"minutes":51,"utc":true},"type":"temporal","axis":null,"scale":{"type":"utc","domain":[{"year":2024,"month":"sep","date":27,"hours":9,"minutes":8,"utc":true},{"year":2025,"month":"may","date":25,"hours":18,"minutes":17,"utc":true}]}},
  "y":{"datum":0.5,"type":"quantitative","axis":null,"scale":{"domain":[0,1]}}}},
{"data":{"name":"one"},"mark":{"type":"text","align":"right","baseline":"middle","fontSize":14,"fontWeight":"bold","font":"DejaVu Sans","color":"#111111","text":"یوبیتکس"},
 "encoding":{
  "x":{"datum":{"year":2025,"month":"may","date":22,"hours":3,"minutes":26,"utc":true},"type":"temporal","axis":null,"scale":{"type":"utc","domain":[{"year":2024,"month":"sep","date":27,"hours":9,"minutes":8,"utc":true},{"year":2025,"month":"may","date":25,"hours":18,"minutes":17,"utc":true}]}},
  "y":{"datum":0.5,"type":"quantitative","axis":null,"scale":{"domain":[0,1]}}}},
{"data":{"name":"one"},"mark":{"type":"point","shape":"circle","filled":true,"size":196,"color":"#111111","opacity":1},
 "encoding":{
  "x":{"datum":{"year":2025,"month":"may","date":24,"hours":1,"minutes":12,"utc":true},"type":"temporal","axis":null,"scale":{"type":"utc","domain":[{"year":2024,"month":"sep","date":27,"hours":9,"minutes":8,"utc":true},{"year":2025,"month":"may","date":25,"hours":18,"minutes":17,"utc":true}]}},
  "y":{"datum":0.5,"type":"quantitative","axis":null,"scale":{"domain":[0,1]}}}}
]
}
]
}
